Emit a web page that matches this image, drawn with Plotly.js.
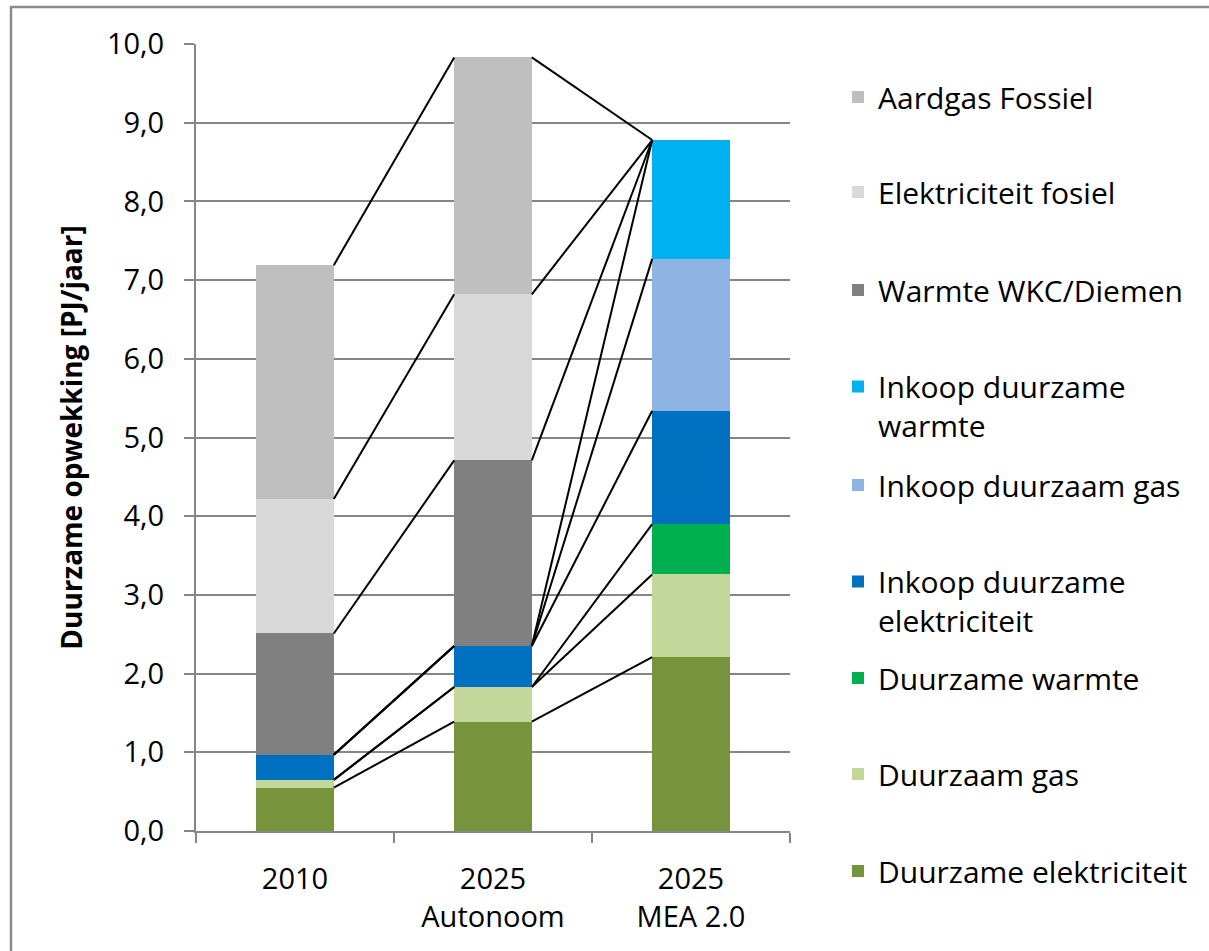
<!DOCTYPE html>
<html><head><meta charset="utf-8">
<script src="https://cdn.plot.ly/plotly-3.0.1.min.js"></script>
<style>html,body{margin:0;padding:0;background:#fff;} #chart{width:1209px;height:951px;}</style>
</head><body><div id="chart"></div>
<script>
// Categories (x)
const categories = ['2010', '2025<br>Autonoom', '2025<br>MEA 2.0'];

// Series values (PJ/jaar), stacked bottom to top
const duurzameElektriciteit = [0.55, 1.39, 2.21];
const duurzaamGas = [0.10, 0.44, 1.05];
const duurzameWarmte = [0.00, 0.00, 0.64];
const inkoopDuurzameElektriciteit = [0.32, 0.52, 1.44];
const inkoopDuurzaamGas = [0.00, 0.00, 1.93];
const inkoopDuurzameWarmte = [0.00, 0.00, 1.51];
const warmteWKC = [1.54, 2.36, 0.00];
const elektriciteitFosiel = [1.71, 2.11, 0.00];
const aardgasFossiel = [2.97, 3.01, 0.00];

const seriesNames = ['Duurzame elektriciteit', 'Duurzaam gas', 'Duurzame warmte',
  'Inkoop duurzame<br>elektriciteit', 'Inkoop duurzaam gas', 'Inkoop duurzame<br>warmte',
  'Warmte WKC/Diemen', 'Elektriciteit fosiel', 'Aardgas Fossiel'];
const seriesValues = [duurzameElektriciteit, duurzaamGas, duurzameWarmte,
  inkoopDuurzameElektriciteit, inkoopDuurzaamGas, inkoopDuurzameWarmte,
  warmteWKC, elektriciteitFosiel, aardgasFossiel];
const seriesColors = ['#77933C', '#C4D79B', '#00B050', '#0070C0', '#8DB4E2', '#00B0F0',
  '#808080', '#D9D9D9', '#BFBFBF'];

const FONT = 'Open Sans, Liberation Sans, sans-serif';
const GRID = '#868686';
const BARW = 0.392;
const xIdx = categories.map((c, i) => i);

const traces = [];
const legendIds = ['legend','legend2','legend3','legend4','legend5','legend6','legend7','legend8','legend9'];
seriesValues.forEach((vals, s) => {
  traces.push({
    type: 'bar', x: xIdx, y: vals, name: seriesNames[s], width: BARW,
    marker: {color: seriesColors[s], line: {width: 0}},
    legend: legendIds[s], hoverinfo: 'skip'
  });
});

// series lines connecting cumulative tops between adjacent bars
const cum = [];
seriesValues.forEach((vals, s) => {
  cum.push(vals.map((v, i) => v + (s > 0 ? cum[s - 1][i] : 0)));
});
const lx = [], ly = [];
cum.forEach(c => {
  for (let i = 0; i < categories.length - 1; i++) {
    lx.push(xIdx[i] + BARW / 2, xIdx[i + 1] - BARW / 2, null);
    ly.push(c[i], c[i + 1], null);
  }
});
traces.push({type: 'scatter', mode: 'lines', x: lx, y: ly, showlegend: false,
  line: {color: '#000', width: 2}, hoverinfo: 'skip'});

// legend placement (pixel centres of item text)
const legendYpx = [871, 774, 678, 601, 485, 406, 290, 192, 97];
const L = 196, T = 44, PW = 594, PH = 787;
const layout = {
  width: 1209, height: 951,
  margin: {l: L, r: 1209 - L - PW, t: T, b: 951 - T - PH, pad: 0},
  paper_bgcolor: '#fff', plot_bgcolor: '#fff',
  barmode: 'stack',
  separators: ', ',
  font: {family: FONT, size: 29, color: '#000'},
  xaxis: {
    type: 'linear', range: [-0.5, 2.5], tickvals: xIdx, ticktext: categories,
    ticks: '', showgrid: false, zeroline: false, showline: true,
    linecolor: GRID, linewidth: 2, ticklabelstandoff: 21,
    tickfont: {size: 29, family: FONT, color: '#000'},
    minor: {tickvals: [-0.5, 0.5, 1.5, 2.5], ticks: 'outside', ticklen: 10, tickwidth: 2, tickcolor: GRID, showgrid: false}
  },
  yaxis: {
    range: [0, 10], dtick: 1, tick0: 0, tickformat: '.1f',
    ticks: 'outside', ticklen: 10, tickwidth: 2, tickcolor: GRID,
    showgrid: true, gridcolor: GRID, gridwidth: 2, zeroline: false,
    showline: true, linecolor: GRID, linewidth: 2, ticklabelstandoff: 14,
    tickfont: {size: 29, family: FONT, color: '#000'},
    title: {text: '<b>Duurzame opwekking [PJ/jaar]</b>', font: {size: 28, family: FONT, color: '#000'}, standoff: 16}
  },
  shapes: [
    {type: 'rect', xref: 'paper', yref: 'paper', x0: (0 - L) / PW, x1: (1209 - L) / PW,
      y0: (T + PH - 0) / PH, y1: (T + PH + 5) / PH, fillcolor: '#CDE7EB', line: {width: 0}, layer: 'below'},
    {type: 'rect', xref: 'paper', yref: 'paper', x0: (11 - L) / PW, x1: (1216 - L) / PW,
      y0: (T + PH - 960) / PH, y1: (T + PH - 7) / PH, fillcolor: 'rgba(0,0,0,0)', line: {color: '#8C8C8C', width: 2.5}, layer: 'below'}
  ]
};
legendIds.forEach((id, s) => {
  layout[id] = {
    x: (838 - L) / PW, xanchor: 'left', y: (T + PH - legendYpx[s]) / PH, yanchor: 'middle',
    bgcolor: 'rgba(0,0,0,0)', borderwidth: 0, valign: 'top', itemwidth: 30,
    font: {size: 30, family: FONT, color: '#000'}
  };
});

Plotly.newPlot('chart', traces, layout, {displayModeBar: false, staticPlot: true});
</script>
</body></html>
